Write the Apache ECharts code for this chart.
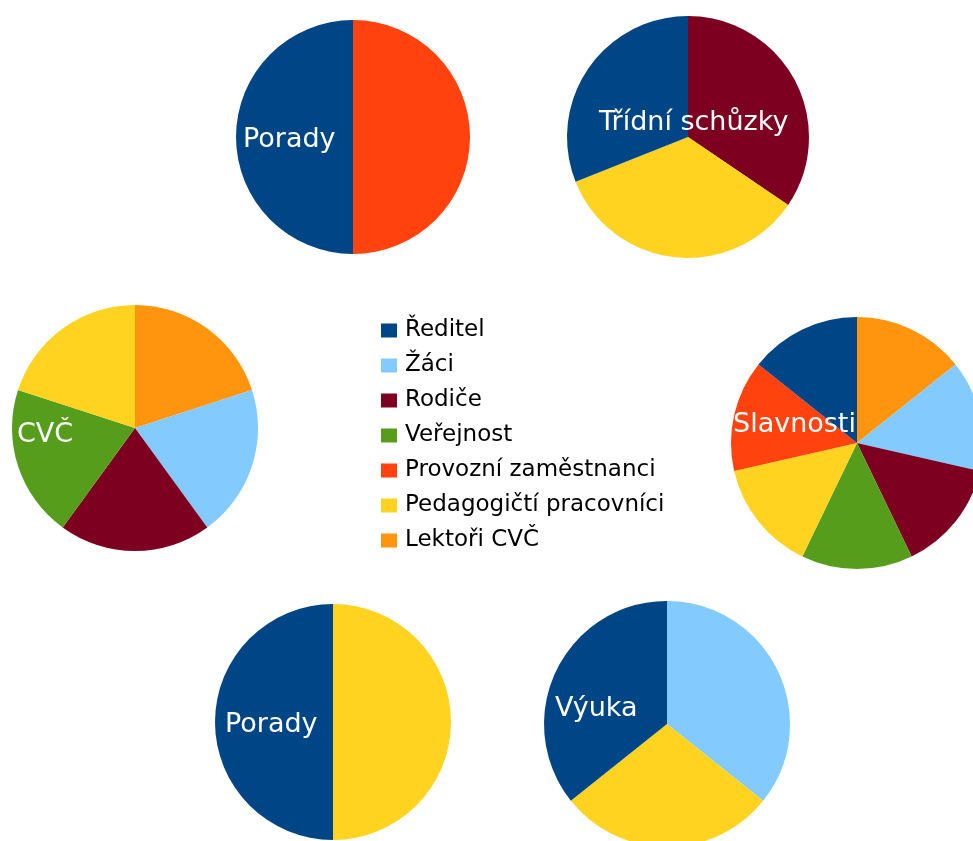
<!DOCTYPE html>
<html>
<head>
<meta charset="utf-8">
<script src="https://cdn.jsdelivr.net/npm/echarts@6/dist/echarts.min.js"></script>
<style>
html,body{margin:0;padding:0;background:#fff;}
#chart{width:973px;height:841px;}
</style>
</head>
<body>
<div id="chart"></div>
<script>
// ---- data ----
const categories = ['Ředitel', 'Žáci', 'Rodiče', 'Veřejnost', 'Provozní zaměstnanci', 'Pedagogičtí pracovníci', 'Lektoři CVČ'];
const pieTitles = ['Porady', 'Třídní schůzky', 'CVČ', 'Slavnosti', 'Porady', 'Výuka'];

// slices listed clockwise from 12 o'clock
const poradyTopCats = ['Provozní zaměstnanci', 'Ředitel'];
const poradyTopValues = [1, 1];
const schuzkyCats = ['Rodiče', 'Pedagogičtí pracovníci', 'Ředitel'];
const schuzkyValues = [10, 10, 9];
const cvcCats = ['Lektoři CVČ', 'Žáci', 'Rodiče', 'Veřejnost', 'Pedagogičtí pracovníci'];
const cvcValues = [1, 1, 1, 1, 1];
const slavnostiCats = ['Lektoři CVČ', 'Žáci', 'Rodiče', 'Veřejnost', 'Pedagogičtí pracovníci', 'Provozní zaměstnanci', 'Ředitel'];
const slavnostiValues = [1, 1, 1, 1, 1, 1, 1];
const poradyBottomCats = ['Pedagogičtí pracovníci', 'Ředitel'];
const poradyBottomValues = [1, 1];
const vyukaCats = ['Žáci', 'Pedagogičtí pracovníci', 'Ředitel'];
const vyukaValues = [5, 4, 5];

// ---- style ----
const palette = ['#004586', '#83caff', '#7e0021', '#579d1c', '#ff420e', '#ffd320', '#ff950e'];
const colorOf = name => palette[categories.indexOf(name)];

const pies = [
  { cats: poradyTopCats, vals: poradyTopValues, center: [353, 137], r: 117, label: [243, 140] },
  { cats: schuzkyCats, vals: schuzkyValues, center: [688, 137], r: 121, label: [599, 123] },
  { cats: cvcCats, vals: cvcValues, center: [135, 428], r: 123, label: [17, 435] },
  { cats: slavnostiCats, vals: slavnostiValues, center: [857, 443], r: 126, label: [733, 425] },
  { cats: poradyBottomCats, vals: poradyBottomValues, center: [333, 722], r: 118, label: [225, 725] },
  { cats: vyukaCats, vals: vyukaValues, center: [667, 724], r: 123, label: [555, 709] }
];

const series = pies.map((p, i) => ({
  type: 'pie',
  name: pieTitles[i],
  center: p.center,
  radius: [0, p.r],
  startAngle: 90,
  clockwise: true,
  animation: false,
  silent: true,
  label: { show: false },
  labelLine: { show: false },
  emphasis: { disabled: true },
  itemStyle: { borderWidth: 0 },
  data: p.cats.map((c, k) => ({ name: c, value: p.vals[k], itemStyle: { color: colorOf(c) } }))
}));

const graphics = pies.map((p, i) => ({
  type: 'text',
  x: p.label[0],
  y: p.label[1],
  z: 100,
  style: {
    text: pieTitles[i],
    fill: '#ffffff',
    font: '27px "DejaVu Sans"',
    verticalAlign: 'middle'
  }
}));

const chart = echarts.init(document.getElementById('chart'), null, { renderer: 'canvas' });
chart.setOption({
  backgroundColor: '#ffffff',
  animation: false,
  legend: {
    orient: 'vertical',
    left: 381,
    top: 319,
    padding: 0,
    itemWidth: 16,
    itemHeight: 14,
    itemGap: 12,
    icon: 'rect',
    selectedMode: false,
    data: categories.map(c => ({ name: c, itemStyle: { color: colorOf(c) } })),
    textStyle: { fontSize: 23, fontFamily: 'DejaVu Sans', color: '#000', padding: [0, 0, 0, 3] }
  },
  series: series,
  graphic: graphics
});
</script>
</body>
</html>
